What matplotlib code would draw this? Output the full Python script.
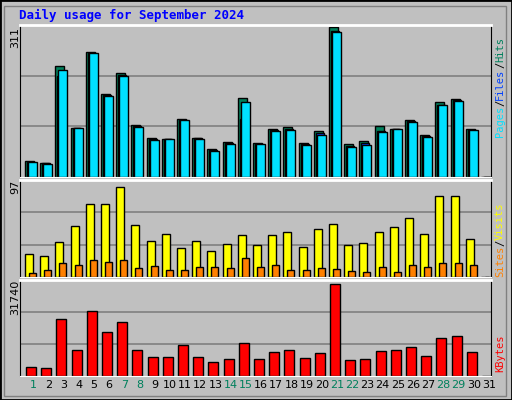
import matplotlib
matplotlib.use("Agg")
import matplotlib.pyplot as plt
from matplotlib.patches import Rectangle
import numpy as np

days = list(range(1, 32))
weekend = [1, 7, 8, 14, 15, 21, 22, 28, 29]

hits = [33, 29, 230, 102, 259, 172, 216, 108, 81, 79, 120, 81, 58, 73, 164, 70,
        100, 104, 70, 95, 311, 68, 75, 106, 100, 118, 87, 155, 162, 100, 0]
files = [32, 28, 209, 102, 257, 170, 211, 106, 79, 79, 119, 80, 56, 70, 120, 69,
         97, 100, 68, 91, 303, 65, 70, 96, 100, 116, 85, 150, 160, 98, 0]
pages = [31, 27, 222, 102, 257, 168, 209, 104, 77, 79, 118, 79, 54, 68, 155, 68,
         95, 97, 66, 87, 300, 62, 66, 93, 100, 114, 83, 149, 158, 97, 0]
visits = [23, 21, 36, 52, 74, 74, 92, 53, 37, 44, 30, 37, 27, 34, 43, 33,
          43, 46, 31, 49, 54, 33, 35, 46, 51, 60, 44, 83, 83, 39, 0]
sites = [4, 7, 14, 12, 17, 15, 17, 9, 11, 7, 7, 10, 10, 9, 19, 10,
         12, 7, 7, 9, 8, 6, 5, 10, 5, 12, 10, 14, 14, 12, 0]
kbytes = [2975, 2645, 19836, 8926, 22480, 15208, 18514, 8926, 6612, 6612, 10579, 6612,
          4959, 5951, 11240, 5951, 8265, 8926, 6281, 7934, 31740, 5620, 5951, 8596,
          8926, 9918, 6943, 13224, 13885, 8265, 0]

W, H = 512, 400
silver = "#C0C0C0"
fig = plt.figure(figsize=(W / 100, H / 100), dpi=100, facecolor=silver)

# frame
fig.patches.append(Rectangle((0, 0), 1, 1, transform=fig.transFigure, fill=False,
                             ec="black", lw=2))
fig.patches.append(Rectangle((4 / W, 4 / H), (W - 10) / W, (H - 10) / H,
                             transform=fig.transFigure, fill=False, ec="#808080", lw=1))

fig.text(19 / W, 1 - 15 / H, "Daily usage for September 2024", color="#0000FF",
         family="DejaVu Sans Mono", weight="bold", fontsize=9, va="center")

def mkax(top, bot):
    ax = fig.add_axes([20 / W, 1 - bot / H, (491 - 20) / W, (bot - top) / H])
    ax.set_facecolor(silver)
    ax.set_xlim(0.145, 31.13)
    ax.set_xticks([])
    ax.set_yticks([])
    for s in ax.spines.values():
        s.set_color("black")
    ax.spines["top"].set_color("white")
    ax.spines["bottom"].set_color("white")
    ax.spines["top"].set_linewidth(2)
    return ax

x = np.array(days)

# top: hits/files/pages
ax1 = mkax(25, 177)
ax1.set_ylim(0, 311 * 150 / 148)
for g in [1 / 3, 2 / 3]:
    ax1.axhline(311 * 150 / 148 * g, color="#808080", lw=1.2, zorder=0)
ax1.bar(x - 0.53, hits, width=0.6, align="edge", color="#00805C", ec="black", lw=1)
ax1.bar(x - 0.39, files, width=0.52, align="edge", color="#0040FF", ec="black", lw=1)
ax1.bar(x - 0.33, pages, width=0.59, align="edge", color="#00E0FF", ec="black", lw=1)

# middle: visits/sites
ax2 = mkax(180, 277)
ax2.set_ylim(0, 99)
for g in [1 / 3, 2 / 3]:
    ax2.axhline(99 * g, color="#808080", lw=1.2, zorder=0)
ax2.bar(x - 0.53, visits, width=0.53, align="edge", color="#FFFF00", ec="black", lw=1)
ax2.bar(x - 0.26, sites, width=0.46, align="edge", color="#FF8000", ec="black", lw=1)

# bottom: kbytes
ax3 = mkax(280, 376)
ax3.set_ylim(0, 31740 * 96 / 92)
for g in [1 / 3, 2 / 3]:
    ax3.axhline(31740 * 96 / 92 * g, color="#808080", lw=1.2, zorder=0)
ax3.bar(x - 0.46, kbytes, width=0.66, align="edge", color="#FF0000", ec="black", lw=1)
ax3.set_xticks(days)
ax3.set_xticklabels([str(d) for d in days], fontsize=8)
ax3.tick_params(axis="x", length=0, pad=3)
for lbl, d in zip(ax3.get_xticklabels(), days):
    lbl.set_color("#00805C" if d in weekend else "black")

# y max labels
fig.text(15 / W, 1 - 38 / H, "311", rotation=90, fontsize=8, ha="center", va="center")
fig.text(15 / W, 1 - 187 / H, "97", rotation=90, fontsize=8, ha="center", va="center")
fig.text(15 / W, 1 - 297 / H, "31740", rotation=90, fontsize=8, ha="center", va="center")

# right labels, stacked bottom-to-top using measured heights
renderer = fig.canvas.get_renderer()

def vlabel(y0, parts):
    yy = y0
    for txt, col in parts:
        t = fig.text(500 / W, 1 - yy / H, txt, rotation=90, color=col, fontsize=7.5,
                     family="DejaVu Sans Mono", ha="center", va="bottom")
        yy -= t.get_window_extent(renderer).height

vlabel(137, [("Pages", "#00E0FF"), ("/", "black"), ("Files", "#0040FF"),
             ("/", "black"), ("Hits", "#00805C")])
vlabel(277, [("Sites", "#FF8000"), ("/", "black"), ("Visits", "#FFFF00")])
vlabel(372, [("KBytes", "#FF0000")])

fig.savefig("out.png", dpi=100, facecolor=silver)
